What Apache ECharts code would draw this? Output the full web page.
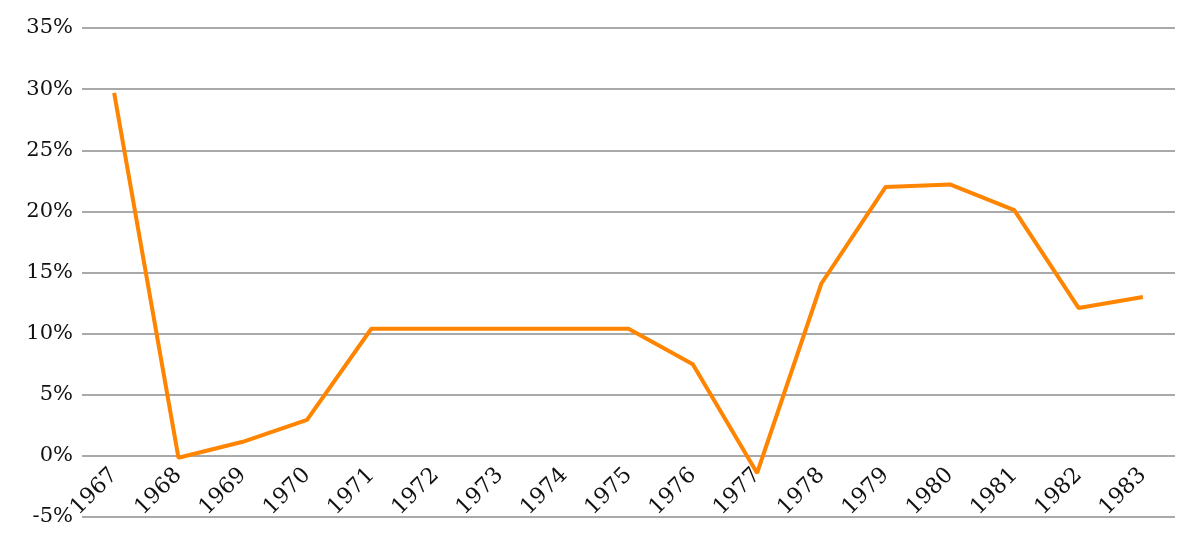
<!DOCTYPE html>
<html>
<head>
<meta charset="utf-8">
<script src="https://cdn.jsdelivr.net/npm/echarts@6/dist/echarts.min.js"></script>
<style>
  html, body { margin: 0; padding: 0; background: #fff; }
  #chart { width: 1200px; height: 543px; }
</style>
</head>
<body>
<div id="chart"></div>
<script>
var years = ['1967', '1968', '1969', '1970', '1971', '1972', '1973', '1974', '1975',
             '1976', '1977', '1978', '1979', '1980', '1981', '1982', '1983'];
var returns = [29.7, -0.15, 1.15, 2.95, 10.4, 10.4, 10.4, 10.4, 10.4,
               7.5, -1.4, 14.1, 22.0, 22.2, 20.1, 12.1, 13.0];
var yTicks = [-5, 0, 5, 10, 15, 20, 25, 30, 35];

var gridTop = 28, gridBottom = 26, chartH = 543;

var myChart = echarts.init(document.getElementById('chart'));

// pixels between the bottom of the grid (-5%) and the 0% line
var plotH = chartH - gridTop - gridBottom;
var zeroShift = plotH * (0 - yTicks[0]) / (yTicks[yTicks.length - 1] - yTicks[0]);

var option = {
    animation: false,
    grid: { left: 82, right: 25, top: gridTop, bottom: gridBottom, outerBoundsMode: 'none' },
    xAxis: {
        type: 'category',
        data: years,
        boundaryGap: true,
        offset: -zeroShift,
        axisLine: { show: false, onZero: false },
        axisTick: { show: false },
        axisLabel: {
            rotate: 45,
            margin: 16,
            fontFamily: 'DejaVu Serif',
            fontSize: 22,
            color: '#111'
        }
    },
    yAxis: {
        type: 'value',
        min: yTicks[0],
        max: yTicks[yTicks.length - 1],
        interval: 5,
        axisLine: { show: false },
        axisTick: { show: false },
        splitLine: { lineStyle: { color: '#8c8c8c', width: 1.5 } },
        axisLabel: {
            margin: 9,
            fontFamily: 'DejaVu Serif',
            fontSize: 21,
            color: '#111',
            formatter: '{value}%'
        }
    },
    series: [{
        type: 'line',
        data: returns,
        symbol: 'none',
        lineStyle: { color: '#ff8400', width: 4 }
    }]
};

myChart.setOption(option);
</script>
</body>
</html>
